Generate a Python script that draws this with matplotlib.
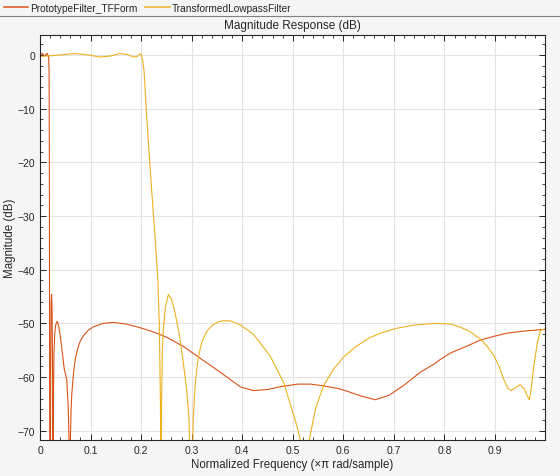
import matplotlib
matplotlib.use("Agg")
import matplotlib.pyplot as plt
from matplotlib.lines import Line2D
from matplotlib.ticker import MultipleLocator

# ---- data ----
proto_f = [0.0, 0.004, 0.009, 0.014, 0.017, 0.0180, 0.0185, 0.0190, 0.0200, 0.0210,
           0.0220, 0.0230, 0.0240, 0.0250, 0.0258, 0.0265, 0.0275, 0.0290, 0.0310,
           0.0340, 0.0370, 0.0400, 0.0440, 0.0480, 0.0530, 0.0560, 0.0575, 0.0585,
           0.0600, 0.0615, 0.0630, 0.0660, 0.0700, 0.0750, 0.0800, 0.0860, 0.0950,
           0.1060, 0.1250, 0.1450, 0.1700,
           0.1980, 0.2250, 0.2510, 0.2840, 0.3170, 0.3450, 0.3700, 0.3960, 0.4220,
           0.4500, 0.4800, 0.5100, 0.5350, 0.5600, 0.5940, 0.6350, 0.6630, 0.6900,
           0.7200, 0.7520, 0.7790, 0.7920, 0.8120, 0.8450, 0.8710, 0.8980, 0.9240,
           0.9600, 0.9990]
proto_db = [-0.2, 0.3, -0.2, 0.3, -0.3, -3.0, -20.0, -60.0, -95.0, -60.0,
            -46.0, -44.6, -48.0, -62.0, -95.0, -65.0, -56.0, -52.0, -50.3,
            -49.6, -50.5, -52.3, -55.3, -58.5, -60.5, -66.0, -72.0, -95.0,
            -72.0, -66.0, -63.0, -59.5, -56.5, -54.5, -53.2, -52.3, -51.3,
            -50.6, -50.0, -49.8, -50.1,
            -50.8, -51.6, -52.6, -54.3, -56.5, -58.3, -60.0, -61.8, -62.5,
            -62.3, -61.7, -61.3, -61.3, -61.6, -62.2, -63.5, -64.2, -63.4,
            -61.5, -59.1, -57.6, -56.7, -55.5, -54.2, -53.1, -52.4, -51.8,
            -51.4, -51.1]

lp_f = [0.0, 0.030, 0.069, 0.095, 0.119, 0.140, 0.158, 0.172, 0.185, 0.192, 0.197,
        0.200, 0.203, 0.206, 0.210, 0.217, 0.2245, 0.228, 0.233, 0.236, 0.2383,
        0.2395, 0.2405, 0.2420, 0.2440, 0.2480, 0.2540, 0.2600, 0.2660, 0.2720,
        0.2770, 0.2830, 0.2900, 0.2950, 0.2990, 0.3030, 0.3070, 0.3100, 0.3150,
        0.3200, 0.3300, 0.3400, 0.3500, 0.3620, 0.3760, 0.3950, 0.4220, 0.4550,
        0.4820, 0.5080,
        0.5170, 0.5240, 0.5310, 0.5450, 0.5540, 0.5610, 0.5800, 0.6000, 0.6250,
        0.6530, 0.6800, 0.7060, 0.7400, 0.7790, 0.8120, 0.8320, 0.8500, 0.8710,
        0.8850, 0.8980, 0.9080, 0.9170, 0.9250, 0.9320, 0.9400, 0.9500, 0.9580,
        0.9640, 0.9680, 0.9720, 0.9770, 0.9840, 0.9900, 0.9990]
lp_db = [-0.3, -0.1, 0.25, 0.0, -0.4, -0.2, 0.25, 0.1, -0.4, -0.3, 0.15,
         0.2, -1.0, -3.2, -10.0, -20.0, -30.0, -34.3, -41.7, -50.0, -65.0,
         -95.0, -65.0, -55.0, -51.0, -47.0, -44.6, -45.5, -47.5, -50.3,
         -52.9, -57.0, -62.2, -68.0, -95.0, -68.0, -61.5, -58.5, -55.5,
         -53.5, -51.5, -50.4, -49.8, -49.5, -49.5, -50.2, -52.0, -56.0,
         -61.0, -69.0,
         -72.5, -95.0, -72.5, -65.9, -63.4, -61.6, -58.6, -56.3, -54.3,
         -52.6, -51.6, -50.9, -50.3, -50.0, -50.1, -50.7, -51.5, -52.9,
         -54.3, -56.0, -58.0, -60.3, -62.0, -62.5, -62.0, -61.4, -62.2,
         -63.5, -64.2, -62.0, -57.9, -53.5, -51.3, -51.0]

series_names = ["PrototypeFilter_TFForm", "TransformedLowpassFilter"]
title_text = "Magnitude Response (dB)"
xlabel_text = "Normalized Frequency (\u00d7\u03c0 rad/sample)"
ylabel_text = "Magnitude (dB)"

plt.rcParams['font.family'] = ['Liberation Sans', 'DejaVu Sans']

fig = plt.figure(figsize=(5.6, 4.77), dpi=100, facecolor='#f5f5f5')
ax = fig.add_axes([40/560, 1-441/477, 505/560, 405/477])
ax.set_facecolor('white')

c1 = '#D95319'
c2 = '#EDB120'
ax.plot(proto_f, proto_db, color=c1, lw=0.8, label=series_names[0])
ax.plot(lp_f, lp_db, color=c2, lw=0.8, label=series_names[1])

ax.set_xlim(0, 0.999)
ax.set_ylim(-71.7, 3.7)
ax.xaxis.set_minor_locator(MultipleLocator(0.02))
ax.yaxis.set_major_locator(MultipleLocator(10))
ax.yaxis.set_minor_locator(MultipleLocator(2))
ax.set_xticks([0, 0.1, 0.2, 0.3, 0.4, 0.5, 0.6, 0.7, 0.8, 0.9])
ax.set_xticklabels(['0', '0.1', '0.2', '0.3', '0.4', '0.5', '0.6', '0.7', '0.8', '0.9'])
ax.grid(True, which='major', color='#e3e3e3', lw=0.8)
ax.set_axisbelow(True)
ax.tick_params(which='both', direction='in', top=True, right=True,
               colors='#262626', labelsize=7.5, labelcolor='#262626')
ax.tick_params(which='major', length=4, width=0.7)
ax.tick_params(which='minor', length=2.5, width=0.6)
for s in ax.spines.values():
    s.set_color('#262626')
    s.set_linewidth(0.8)

ax.set_title(title_text, fontsize=8.5, color='#262626', pad=5)
ax.set_xlabel(xlabel_text, fontsize=8.3, color='#262626', labelpad=2)
ax.set_ylabel(ylabel_text, fontsize=8.3, color='#262626')
ax.yaxis.set_label_coords(-0.047, 0.5)

leg = fig.legend(loc='upper left', bbox_to_anchor=(0.0, 1.0), ncol=2, frameon=False,
                 fontsize=7.3, handlelength=2.4, handletextpad=0.2, columnspacing=0.8,
                 borderaxespad=0.1, borderpad=0.25)
for t in leg.get_texts():
    t.set_color('#262626')
for ln in leg.get_lines():
    ln.set_linewidth(1.1)

fig.add_artist(Line2D([0, 1], [1-17/477, 1-17/477], transform=fig.transFigure,
                      color='#808080', lw=0.8))

fig.savefig('out.png', dpi=100, facecolor=fig.get_facecolor())
